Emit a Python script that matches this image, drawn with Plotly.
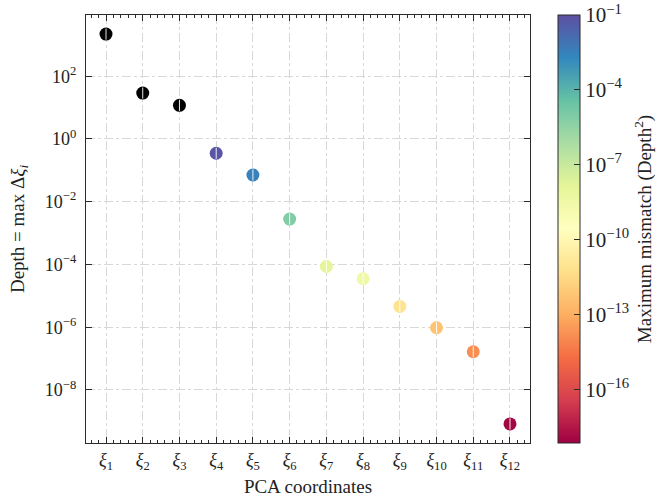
import numpy as np
import plotly.graph_objects as go

# PCA coordinate index and labels
coords = list(range(1, 13))
coord_labels = [f"<i>ξ</i><sub>{i}</sub>" for i in coords]

# Depth = max Δξ_i for each coordinate
depth = [2.2e3, 29.0, 11.8, 0.35, 0.071, 2.8e-3,
         8.6e-5, 3.5e-5, 4.6e-6, 9.6e-7, 1.65e-7, 8.3e-10]

# Maximum mismatch (Depth^2) per coordinate; values above the colour range show black
mismatch = [3.0e2, 1.0e0, 2.0e-1, 6.0e-2, 3.2e-3, 8.0e-6,
            1.3e-8, 3.2e-9, 8.0e-12, 5.0e-13, 1.4e-14, 1.0e-18]

# Colour scale limits (log10 of mismatch)
cmin_log, cmax_log = -18.14, -1.0
cbar_ticks = [-1, -4, -7, -10, -13, -16]

# y-axis decades shown
y_ticks = [-8, -6, -4, -2, 0, 2]

FONT = "Liberation Serif"
AX = "#2b2b2b"
GRID = "#d8d8d8"

log_mis = np.log10(mismatch)
over = log_mis > cmax_log
x_arr = np.array(coords)
d_arr = np.array(depth)

fig = go.Figure()

# points inside the colour range
fig.add_trace(go.Scatter(
    x=x_arr[~over], y=d_arr[~over], mode="markers",
    marker=dict(
        size=13, color=log_mis[~over], colorscale="Spectral",
        cmin=cmin_log, cmax=cmax_log, line=dict(width=0),
        colorbar=dict(
            x=(558 - 86) / 444, xanchor="left", xpad=0,
            y=0.5, yanchor="middle", len=1.0, lenmode="fraction", ypad=0,
            thickness=22, thicknessmode="pixels",
            outlinecolor=AX, outlinewidth=1,
            tickmode="array", tickvals=cbar_ticks,
            ticktext=[f"10<sup>−{abs(t)}</sup>" for t in cbar_ticks],
            ticks="inside", ticklen=6, tickcolor=AX, tickwidth=1,
            tickfont=dict(family=FONT, size=21, color="#222"),
            title=dict(text="Maximum mismatch (Depth<sup>2</sup>)", side="right",
                       font=dict(family=FONT, size=19, color="#222")),
        ),
    ),
    showlegend=False, hoverinfo="x+y",
))

# points above the colour range
fig.add_trace(go.Scatter(
    x=x_arr[over], y=d_arr[over], mode="markers",
    marker=dict(size=13, color="black", line=dict(width=0)),
    showlegend=False, hoverinfo="x+y",
))

# thin white error-bar stroke inside each marker
fig.add_trace(go.Scatter(
    x=x_arr, y=d_arr, mode="markers",
    marker=dict(symbol="line-ns", size=8, line=dict(width=0.9, color="white")),
    showlegend=False, hoverinfo="skip",
))

axis_common = dict(
    showline=True, linecolor=AX, linewidth=1.3, mirror="allticks",
    ticks="inside", tickcolor=AX, tickwidth=1, ticklen=6,
    showgrid=True, gridcolor=GRID, gridwidth=1, griddash="dashdot",
    zeroline=False, automargin=False,
    tickfont=dict(family=FONT, size=18, color="#222"),
)

fig.update_xaxes(
    **axis_common,
    range=[0.455, 12.545],
    tickmode="array", tickvals=coords, ticktext=coord_labels,
    minor=dict(dtick=0.2, tick0=0, ticks="inside", ticklen=3,
               tickcolor=AX, tickwidth=1, showgrid=False),
    title=dict(text="PCA coordinates", font=dict(family=FONT, size=19, color="#222"),
               standoff=8),
)

fig.update_yaxes(
    **axis_common,
    type="log", range=[-9.69, 3.95],
    tickmode="array", tickvals=[10.0 ** t for t in y_ticks],
    ticktext=[f"10<sup>{'−' if t < 0 else ''}{abs(t)}</sup>" for t in y_ticks],
    ticklabelstandoff=5,
    title=dict(text="Depth = max Δ<i>ξ<sub>i</sub></i>",
               font=dict(family=FONT, size=19, color="#222"), standoff=15),
)

fig.update_layout(
    width=671, height=498,
    margin=dict(l=86, r=141, t=15, b=55, autoexpand=False),
    paper_bgcolor="white", plot_bgcolor="white",
    font=dict(family=FONT, color="#222"),
)

fig.write_html("out.html")
